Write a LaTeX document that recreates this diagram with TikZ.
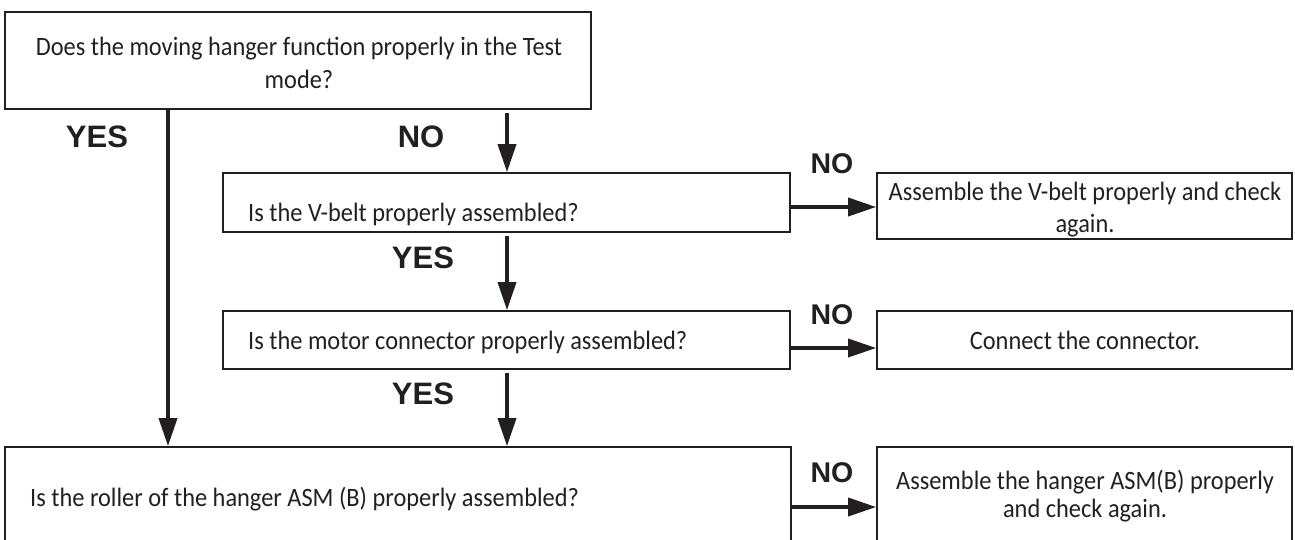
\documentclass[tikz,border=0pt]{standalone}
\usepackage{fontspec}
\setmainfont{Carlito}[FakeStretch=0.92]
\newfontfamily\lblfont{Liberation Sans}
\usetikzlibrary{arrows.meta}
\definecolor{ink}{RGB}{35,31,32}
\begin{document}
\begin{tikzpicture}[x=1pt,y=-1pt,
  box/.style={draw=ink, line width=1.7pt, rectangle, inner sep=0pt},
  txt/.style={inner sep=0pt, text=ink, font=\fontsize{26.5}{33}\selectfont},
  arr/.style={draw=ink, line width=3.6pt, -{Triangle[length=28pt,width=18pt]}},
  lbl/.style={inner sep=0pt, text=ink, font=\lblfont\bfseries\fontsize{31}{31}\selectfont},
  lbls/.style={inner sep=0pt, text=ink, font=\lblfont\bfseries\fontsize{28.5}{28}\selectfont}]
\useasboundingbox (0,0) rectangle (1295,539);
% boxes
\node[box, minimum width=586pt, minimum height=97pt] (top) at (298,60.5) {};
\node[box, minimum width=567pt, minimum height=59pt] (vbelt) at (506.5,202.5) {};
\node[box, minimum width=415pt, minimum height=66pt] (asm1) at (1084.5,206) {};
\node[box, minimum width=567pt, minimum height=58pt] (motor) at (506.5,340) {};
\node[box, minimum width=415pt, minimum height=58pt] (conn) at (1084.5,340) {};
\node[box, minimum width=786pt, minimum height=113pt] (roller) at (398,503.5) {};
\node[box, minimum width=415pt, minimum height=113pt] (asm2) at (1084.5,503.5) {};
% texts
\node[txt, anchor=base] (t1a) at (299,55) {Does the moving hanger function properly in the Test};
\node[txt, anchor=base] (t1b) at (299,88) {mode?};
\node[txt, anchor=base west] (t2) at (248,221) {Is the V-belt properly assembled?};
\node[txt, anchor=base] (t3a) at (1085,200) {Assemble the V-belt properly and check};
\node[txt, anchor=base] (t3b) at (1085,232) {again.};
\node[txt, anchor=base west] (t4) at (248,349) {Is the motor connector properly assembled?};
\node[txt, anchor=base] (t5) at (1085,349) {Connect the connector.};
\node[txt, anchor=base west] (t6) at (30,506) {Is the roller of the hanger ASM (B) properly assembled?};
\node[txt, anchor=base] (t7a) at (1085,489) {Assemble the hanger ASM(B) properly};
\node[txt, anchor=base] (t7b) at (1085,517) {and check again.};
% labels
\node[lbl, anchor=base] (y1) at (97,147) {YES};
\node[lbl, anchor=base] (n1) at (421,147) {NO};
\node[lbls, anchor=base] (n2) at (832,173) {NO};
\node[lbl, anchor=base] (y2) at (423,268) {YES};
\node[lbls, anchor=base] (n3) at (832,324) {NO};
\node[lbl, anchor=base] (y3) at (423,404) {YES};
\node[lbls, anchor=base] (n4) at (832,482) {NO};
% connectors
\draw[arr] (top.south -| 168,0) -- (roller.north -| 168,0);
\draw[arr] ([yshift=-3pt]top.south -| 507,0) -- (vbelt.north -| 507,0);
\draw[arr] (vbelt.east |- 0,207) -- (asm1.west |- 0,207);
\draw[arr] ([yshift=-3pt]vbelt.south -| 507,0) -- (motor.north -| 507,0);
\draw[arr] (motor.east |- 0,348) -- (conn.west |- 0,348);
\draw[arr] ([yshift=-3pt]motor.south -| 507,0) -- (roller.north -| 507,0);
\draw[arr] (roller.east |- 0,507) -- (asm2.west |- 0,507);
\end{tikzpicture}
\end{document}
